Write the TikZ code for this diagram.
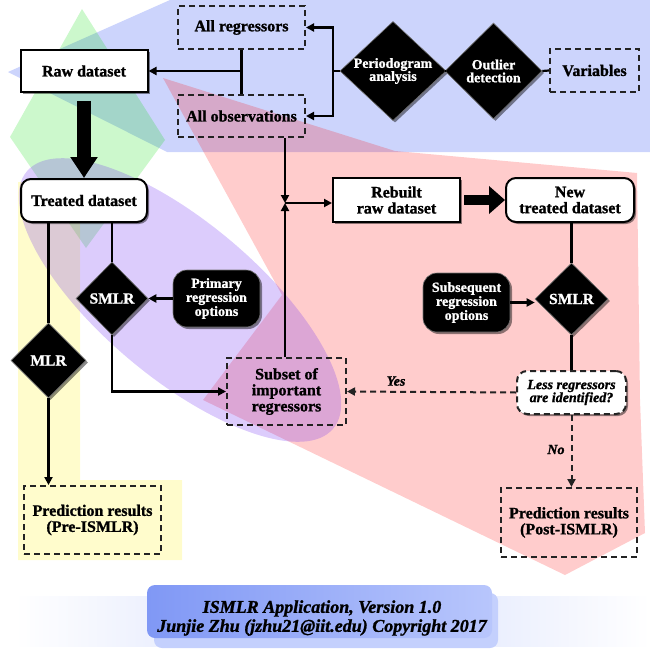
\documentclass[tikz,border=0pt]{standalone}
\usepackage{fontspec}
\setmainfont{Liberation Serif}[BoldFeatures={FakeBold=1.2}, BoldItalicFeatures={FakeBold=1.2}]
\usetikzlibrary{shapes.geometric,arrows.meta,shadows,calc}
\definecolor{bgblue}{RGB}{0,40,240}
\definecolor{bggreen}{RGB}{0,220,0}
\definecolor{bgviolet}{RGB}{115,51,242}
\definecolor{footA}{RGB}{128,152,245}
\definecolor{footB}{RGB}{184,198,252}
\definecolor{footC}{RGB}{196,208,253}
\definecolor{bandC}{RGB}{214,222,252}
\definecolor{dgray}{RGB}{35,35,35}
\begin{document}
\begin{tikzpicture}[x=1pt,y=-1pt,
  shd/.style={drop shadow={shadow xshift=2pt,shadow yshift=-2pt,opacity=0.45,fill=black}},
  txt/.style={font=\fontsize{16pt}{16pt}\selectfont\bfseries, align=center, inner sep=0pt, text=black},
  solidbox/.style={txt, draw=black, line width=2pt, fill=white, shd},
  roundbox/.style={solidbox, rounded corners=10pt},
  dashbox/.style={txt, draw=dgray, line width=2pt, dash pattern=on 6pt off 4pt},
  blk/.style={fill=black, draw=black!55, line width=0.6pt, text=white, font=\fontsize{14pt}{14pt}\selectfont\bfseries, align=center, inner sep=0pt, shd},
  blkround/.style={blk, rounded corners=14pt},
  dia/.style={blk, diamond, font=\fontsize{15.5pt}{15.5pt}\selectfont\bfseries},
  conn/.style={draw=black, line width=2.2pt},
  arr/.style={conn, -{Triangle[length=8pt,width=8pt]}},
  darr/.style={draw=dgray, line width=2pt, dash pattern=on 6pt off 4pt, -{Triangle[length=8pt,width=8pt]}},
  lbl/.style={font=\fontsize{14pt}{14pt}\selectfont\bfseries\itshape, inner sep=0pt, text=black}
]
\useasboundingbox (0,0) rectangle (650,650);
% background shapes
\fill[bgblue, fill opacity=0.2] (8,72) -- (170,0) -- (650,0) -- (650,152) -- (167,152) -- cycle;
\fill[bggreen, fill opacity=0.2] (82,9) -- (165,140) -- (86,248) -- (10,137) -- cycle;
\fill[red, fill opacity=0.2] (163,78) -- (395,151) -- (637,173) -- (640,400) -- (645,533) -- (565,575) -- (203,400) -- (282,295) -- cycle;
\fill[yellow, fill opacity=0.2] (18,182) -- (80,182) -- (80,480) -- (182,480) -- (182,560) -- (18,560) -- cycle;
\fill[bgviolet, fill opacity=0.25, rotate around={-40:(180,300)}] (180,300) ellipse [x radius=200pt, y radius=78pt];
% footer
\shade[left color=white, right color=white, middle color=bandC] (15,596) rectangle (650,646);
\fill[footC, rounded corners=8pt] (154,593) rectangle (498,648);
\node[rounded corners=8pt, left color=footA, right color=footB, minimum width=345pt, minimum height=53pt, inner sep=0pt] (footbox) at (319.5,611.5) {};
\node[font=\fontsize{18pt}{19pt}\selectfont\bfseries\itshape, align=center, inner sep=0pt] (foot) at (322,618) {ISMLR Application, Version 1.0\\Junjie Zhu (jzhu21@iit.edu) Copyright 2017};
% nodes
\node[solidbox, minimum width=127pt, minimum height=42pt] (raw) at (84,71) {Raw dataset};
\node[dashbox, minimum width=127pt, minimum height=43pt] (allreg) at (241.5,27.5) {All regressors};
\node[dashbox, minimum width=127pt, minimum height=42pt] (allobs) at (241.5,116) {All observations};
\node[dia, font=\fontsize{14pt}{13pt}\selectfont\bfseries, minimum width=103pt, minimum height=96pt, aspect=1.07] (perio) at (393,71) {Periodogram\\analysis};
\node[dia, font=\fontsize{14pt}{13pt}\selectfont\bfseries, minimum width=97pt, minimum height=96pt] (outlier) at (493.5,71) {Outlier\\detection};
\node[dashbox, minimum width=89pt, minimum height=43pt] (variables) at (594.5,70.5) {Variables};
\node[roundbox, minimum width=126pt, minimum height=43pt] (treated) at (84,200.5) {Treated dataset};
\node[solidbox, minimum width=127pt, minimum height=44pt] (rebuilt) at (396.5,200) {Rebuilt\\raw dataset};
\node[roundbox, minimum width=128pt, minimum height=44pt] (new) at (570,200) {New\\treated dataset};
\node[dia, minimum width=72pt, minimum height=73pt] (smlr1) at (112,298.5) {SMLR};
\node[blkround, minimum width=87pt, minimum height=57pt] (primary) at (216.5,298.5) {Primary\\regression\\options};
\node[dia, minimum width=75pt, minimum height=75pt] (mlr) at (48.5,360.5) {MLR};
\node[dashbox, minimum width=119pt, minimum height=67pt] (subset) at (286.5,391.5) {Subset of\\important\\regressors};
\node[dia, minimum width=73pt, minimum height=72pt] (smlr2) at (571.5,299) {SMLR};
\node[blkround, minimum width=87pt, minimum height=59pt] (subsequent) at (466.5,302.5) {Subsequent\\regression\\options};
\node[txt, font=\fontsize{14pt}{13pt}\selectfont\bfseries\itshape, draw=dgray, line width=2pt, dash pattern=on 6pt off 4pt, fill=white, rounded corners=10pt, shd, minimum width=109pt, minimum height=43pt] (less) at (571.5,392.5) {Less regressors\\are identified?};
\node[dashbox, minimum width=137pt, minimum height=68pt] (pre) at (92.5,520) {Prediction results\\(Pre-ISMLR)};
\node[dashbox, minimum width=136pt, minimum height=69pt] (post) at (569,522.5) {Prediction results\\(Post-ISMLR)};
% connectors
\coordinate (bar) at (333,71);
\coordinate (j2) at (285,203);
\draw[conn] (allreg.south) -- (allobs.north);
\draw[arr] (allreg.south |- raw.east) -- (raw.east);
\draw[conn] (perio.west) -- (bar);
\draw[arr] (bar) |- (allreg.east);
\draw[arr] (bar) |- (allobs.east);
\draw[conn] (perio.east) -- (outlier.west);
\draw[conn] (outlier.east) -- (variables.west);
\draw[line width=14pt, shorten <=8pt, -{Triangle[length=21pt,width=26pt]}] (raw.south) -- (treated.north);
\draw[arr] (allobs.south -| j2) -- (j2);
\draw[arr] (subset.north -| j2) -- (j2);
\draw[arr] (j2) -- (j2 -| rebuilt.west);
\draw[line width=10pt, shorten <=3pt, -{Triangle[length=16pt,width=27pt]}] (rebuilt.east) -- (new.west);
\draw[conn] (treated.south -| mlr.north) -- (mlr.north);
\draw[conn] (treated.south -| smlr1.north) -- (smlr1.north);
\draw[arr] (primary.west) -- (smlr1.east);
\draw[arr] (smlr1.south) |- (subset.west);
\draw[arr] (mlr.south) -- (mlr.south |- pre.north);
\draw[conn] (new.south -| smlr2.north) -- (smlr2.north);
\draw[arr] (subsequent.east) -- (smlr2.west |- subsequent.east);
\draw[conn] (smlr2.south) -- (less.north);
\draw[darr] (less.west) -- (subset.east) node[lbl, pos=0.71, above=5pt] (yes) {Yes};
\draw[darr] (less.south) -- (less.south |- post.north) node[lbl, pos=0.48, left=6pt] (no) {No};
\end{tikzpicture}
\end{document}
